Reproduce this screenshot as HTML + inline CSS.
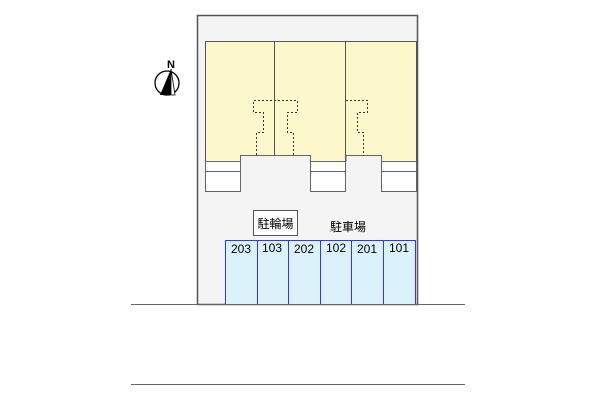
<!DOCTYPE html><html><head><meta charset="utf-8"><style>body{margin:0;background:#fff}svg{display:block}text{font-family:"Liberation Sans","Noto Sans CJK JP",sans-serif}</style></head><body>
<svg width="600" height="400" viewBox="0 0 600 400">
<rect x="197.5" y="15.5" width="220" height="289" fill="#f4f4f4" stroke="#555" stroke-width="1.5"/>
<rect x="205.5" y="41.5" width="211" height="120" fill="#fdf8cc" stroke="#555"/>
<line x1="274.5" y1="41" x2="274.5" y2="155" stroke="#555"/>
<line x1="345.5" y1="41" x2="345.5" y2="161" stroke="#555"/>
<g fill="#fff" stroke="#666">
<rect x="205.5" y="161.5" width="35" height="30"/><line x1="205" y1="171.5" x2="240" y2="171.5"/>
<rect x="310.5" y="161.5" width="35" height="30"/><line x1="310" y1="171.5" x2="345" y2="171.5"/>
<rect x="381.5" y="161.5" width="35" height="30"/><line x1="381" y1="171.5" x2="416" y2="171.5"/>
</g>
<g fill="#f4f4f4" stroke="#666">
<path d="M240.5 191.5V155.5H310.5V191.5"/>
<path d="M346 161.5V155.5H381.5V191.5"/>
</g>
<g fill="none" stroke="#333" stroke-dasharray="2,2">
<path d="M256.5 155V132.5H263.5V112.5H253.5V100.5H297.5V112.5H287.5V132.5H293.5V155"/>
<path d="M346 100.5H367.5V112.5H357.5V132.5H363.5V155"/>
</g>
<rect x="253.5" y="210.5" width="44" height="25" fill="#fff" stroke="#555"/>
<text x="275.5" y="228" font-size="12" text-anchor="middle">駐輪場</text>
<text x="348" y="231" font-size="12" text-anchor="middle">駐車場</text>
<g stroke="#3333ff" fill="#dcf2fb">
<rect x="225.5" y="240.5" width="190" height="64"/>
</g>
<g stroke="#3333ff">
<line x1="257.5" y1="240" x2="257.5" y2="304"/><line x1="288.5" y1="240" x2="288.5" y2="304"/><line x1="320.5" y1="240" x2="320.5" y2="304"/><line x1="351.5" y1="240" x2="351.5" y2="304"/><line x1="383.5" y1="240" x2="383.5" y2="304"/>
</g>
<g font-size="12" text-anchor="middle">
<text x="241" y="253">203</text><text x="272" y="252">103</text><text x="304" y="253">202</text><text x="336" y="252">102</text><text x="367" y="253">201</text><text x="399" y="252">101</text>
</g>
<line x1="131" y1="304.5" x2="465" y2="304.5" stroke="#666"/>
<line x1="131" y1="384.5" x2="465" y2="384.5" stroke="#666"/>
<circle cx="167" cy="83" r="12" fill="#fff" stroke="#000" stroke-width="1.3"/>
<path d="M171 69L160 95L171 95Z" fill="#000"/>
<path d="M171 69L171 95L175 95Z" fill="#fff" stroke="#000" stroke-width="0.8"/>
<text x="171" y="68" font-size="11" font-weight="bold" text-anchor="middle">N</text>
</svg></body></html>
